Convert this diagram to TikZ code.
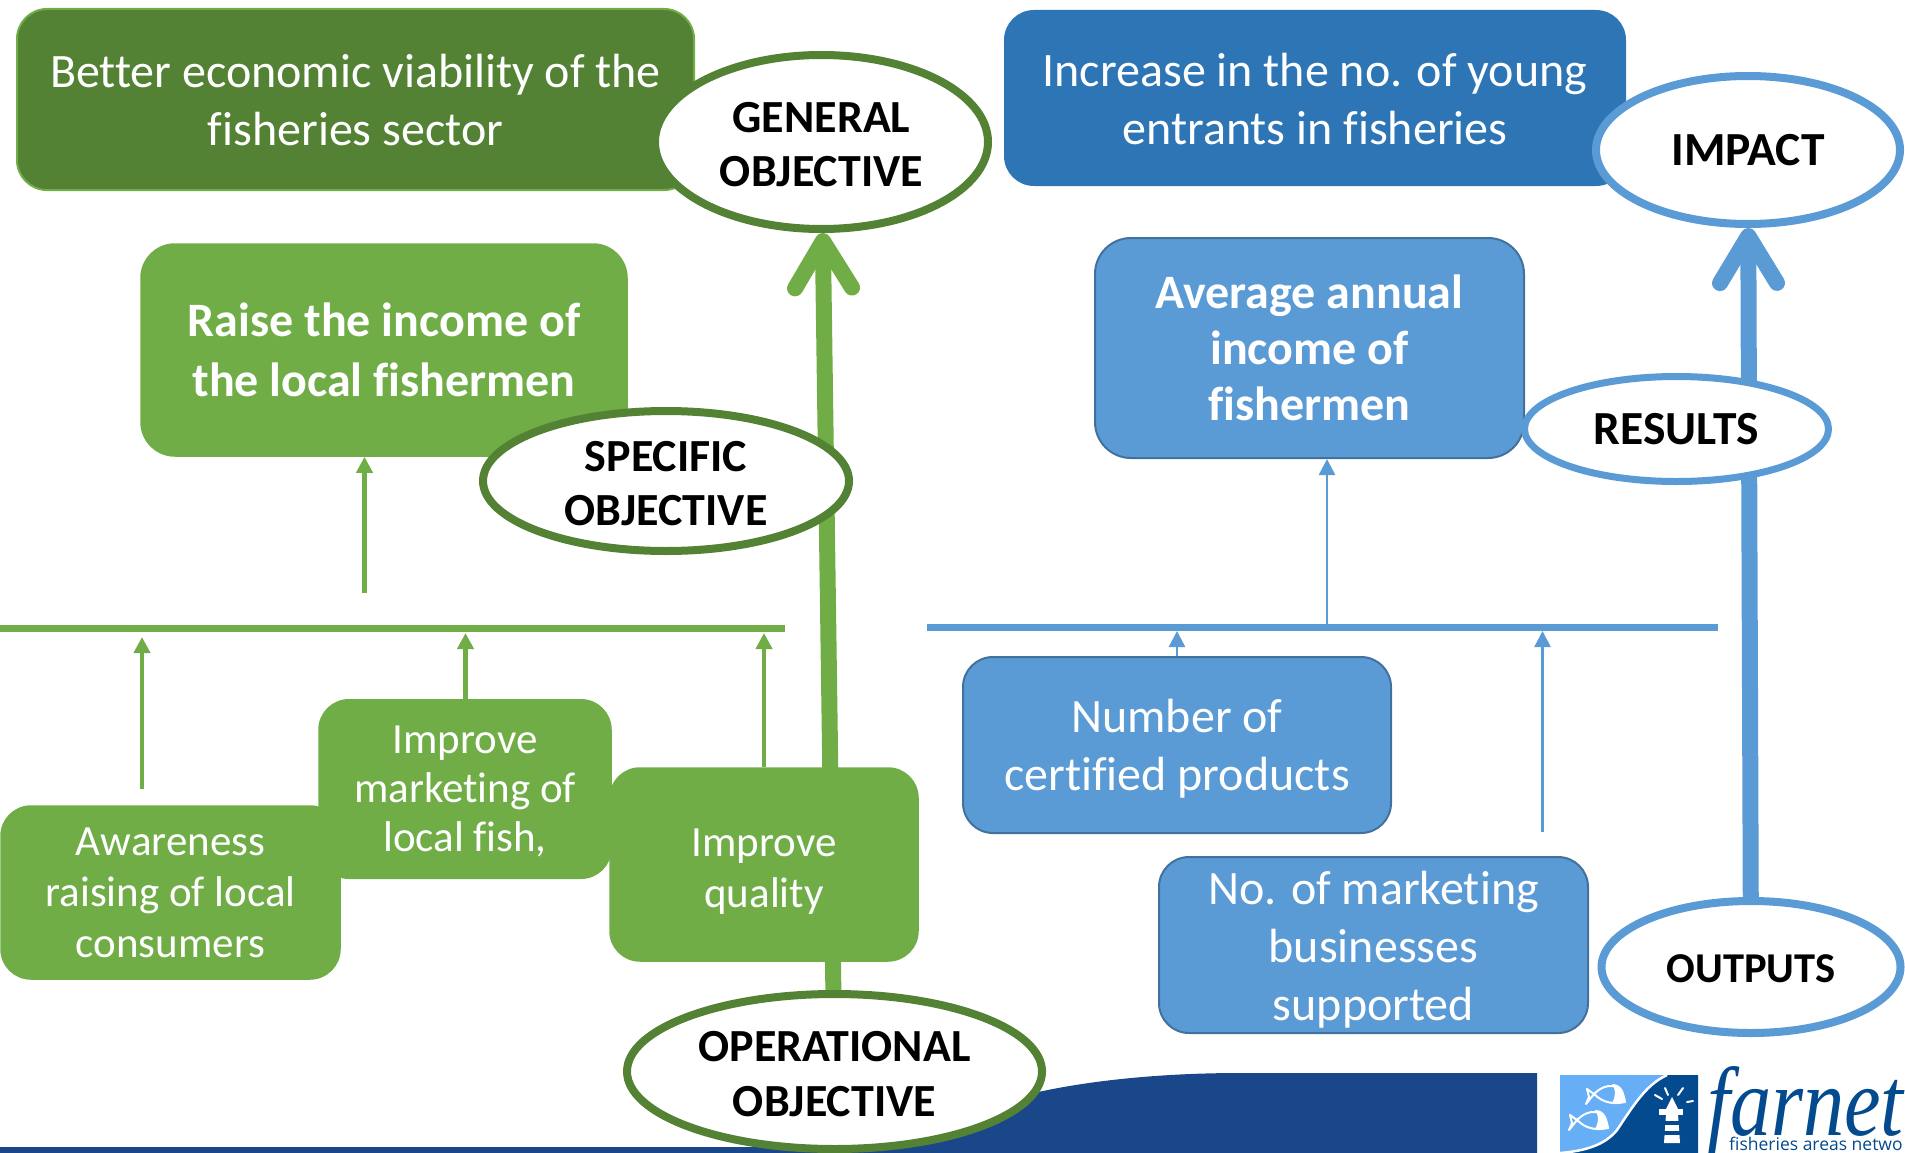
\documentclass[tikz,border=0pt]{standalone}
\usepackage{fontspec}
\setmainfont{Carlito}[Ligatures=NoCommon]
\newfontfamily\farnetfont{Liberation Serif}
\newfontfamily\logosans{Open Sans}
\usetikzlibrary{arrows.meta,shapes.geometric}
\definecolor{dgreen}{HTML}{548235}
\definecolor{lgreen}{HTML}{70AD47}
\definecolor{dblue}{HTML}{2E75B6}
\definecolor{lblue}{HTML}{5B9BD5}
\definecolor{bblue}{HTML}{41719C}
\definecolor{navy}{HTML}{1A4789}
\definecolor{logolight}{HTML}{66AEF5}
\definecolor{logodark}{HTML}{034A8E}
\pgfdeclarelayer{back}
\pgfsetlayers{back,main}
% invisible strut that lowers a node's text a little
\newcommand{\padtop}[1]{\rule{0pt}{#1pt}}
\tikzset{
  roundbox/.style={rectangle,rounded corners=30pt,inner sep=0pt,align=center,text=white},
  txtreg/.style={font=\fontsize{48}{58}\selectfont},
  txtsmall/.style={font=\fontsize{43}{51}\selectfont},
  txtbold/.style={font=\fontsize{48}{60}\selectfont\bfseries},
  gbox/.style={roundbox,fill=lgreen,draw=lgreen,line width=1.5pt},
  bbox/.style={roundbox,fill=lblue,draw=bblue,line width=2pt},
  oval/.style={ellipse,fill=white,line width=8pt,inner sep=-20pt,align=center,text=black,
    font=\fontsize{46}{54.5}\selectfont\bfseries},
  goval/.style={oval,draw=dgreen},
  boval/.style={oval,draw=lblue},
  garrow/.style={draw=lgreen,line width=4.5pt,-{Triangle[length=16pt,width=16pt]}},
  barrow/.style={draw=lblue,line width=2.5pt,-{Triangle[length=16pt,width=16pt]}},
  bigarrow/.style={line width=16pt,-{Straight Barb[length=47pt,width=57pt,round,line width=16pt]}},
  hbar/.style={line width=7pt},
}
\begin{document}
\begin{tikzpicture}[x=1pt,y=-1pt]
\useasboundingbox (0,0) rectangle (1905,1153);
\clip (0,0) rectangle (1905,1153);
% positions of the connectors
\coordinate (gbarL) at (0,628);
\coordinate (gbarR) at (785,628);
\coordinate (bbarL) at (927,627);
\coordinate (bbarR) at (1718,627);
\coordinate (gfree1) at (142,789);
\coordinate (gtip1) at (142,637);
\coordinate (gx2) at (465.5,633);
\coordinate (gx3) at (764,633);
\coordinate (gfree4) at (364.5,593);
\coordinate (bx1) at (1177,631);
\coordinate (bx2) at (1327,627);
\coordinate (bfree3) at (1542.5,832);
\coordinate (btip3) at (1542.5,631);
% boxes
\node[roundbox,txtreg,fill=dgreen,draw=lgreen,line width=2pt,minimum width=677pt,minimum height=181pt] (best) at (355.5,99.5) {\padtop{34}Better economic viability of the\\fisheries sector};
\node[gbox,txtbold,minimum width=486pt,minimum height=212pt,rounded corners=34pt] (raise) at (384,350) {Raise the income of\\the local fishermen};
\node[gbox,txtsmall,minimum width=339pt,minimum height=173pt] (aware) at (170.5,892.5) {Awareness\\raising of local\\consumers};
\node[gbox,font=\fontsize{43}{49}\selectfont,minimum width=292pt,minimum height=178.5pt] (market) at (465,789) {\padtop{32}Improve\\marketing of\\local fish,};
\node[gbox,txtsmall,minimum width=308pt,minimum height=193pt] (qual) at (764,864.5) {\padtop{41}Improve\\quality};
\node[roundbox,txtreg,fill=dblue,minimum width=622pt,minimum height=176pt] (inc) at (1315,98) {\padtop{35}Increase in the no. of young\\entrants in fisheries};
\node[bbox,txtbold,font=\fontsize{48}{56}\selectfont\bfseries,minimum width=429pt,minimum height=220pt,rounded corners=36pt] (avg) at (1309.5,348) {Average annual\\income of\\fishermen};
\node[bbox,txtreg,minimum width=428pt,minimum height=176pt] (num) at (1177,745) {\padtop{40}Number of\\certified products};
\node[bbox,txtreg,minimum width=429pt,minimum height=176pt] (nomark) at (1373.5,945) {\padtop{42}No. of marketing\\businesses\\supported};
% ovals
\node[goval,minimum width=333pt,minimum height=174pt] (gen) at (821.5,142) {\padtop{35}GENERAL\\OBJECTIVE};
\node[goval,minimum width=366pt,minimum height=140pt] (spec) at (666,481) {\padtop{35}SPECIFIC\\OBJECTIVE};
\node[goval,minimum width=415pt,minimum height=155pt] (op) at (834.5,1071.5) {\padtop{35}OPERATIONAL\\OBJECTIVE};
\node[boval,font=\fontsize{47.5}{56}\selectfont\bfseries,minimum width=304pt,minimum height=148pt] (impact) at (1748,150) {IMPACT};
\node[boval,font=\fontsize{42.5}{50}\selectfont\bfseries,minimum width=299pt,minimum height=132pt] (outputs) at (1751,967) {\padtop{32}OUTPUTS};
\node[boval,font=\fontsize{47.5}{56}\selectfont\bfseries,line width=7pt,minimum width=304pt,minimum height=105pt] (results) at (1676.5,429) {RESULTS};
\begin{pgfonlayer}{back}
% footer band
\fill[navy] (0,1147) -- (860,1147) .. controls (930,1118) and (1010,1097) .. (1043,1091)
  .. controls (1100,1079) and (1170,1073) .. (1240,1073) -- (1537,1073) -- (1537,1153) -- (0,1153) -- cycle;
% thick connectors
\draw[bigarrow,draw=lgreen] (op) -- (gen);
\draw[bigarrow,draw=lblue] (outputs) -- (impact);
% bars
\draw[hbar,draw=lgreen] (gbarL) -- (gbarR);
\draw[hbar,draw=lblue] (bbarL) -- (bbarR);
\end{pgfonlayer}
% thin connectors
\draw[garrow] (gfree1) -- (gtip1);
\draw[garrow] (gx2 |- market.north) -- (gx2);
\draw[garrow] (gx3 |- qual.north) -- (gx3);
\draw[garrow] (gfree4) -- (gfree4 |- raise.south);
\draw[barrow] (bx1 |- num.north) -- (bx1);
\draw[barrow] (bx2) -- (bx2 |- avg.south);
\draw[barrow] (bfree3) -- (btip3);
% logo
\fill[logolight] (1560,1075) rectangle (1698,1153);
\fill[logodark] (1667,1075) .. controls (1645,1085) and (1632,1108) .. (1617,1130)
  .. controls (1605,1145) and (1585,1151) .. (1560,1153) -- (1698,1153) -- (1698,1075) -- cycle;
\draw[white,line width=2.5pt] (1667,1075) .. controls (1645,1085) and (1632,1108) .. (1617,1130)
  .. controls (1605,1145) and (1585,1151) .. (1560,1153);
\begin{scope}[white,line width=2pt,line join=round]
  \draw (1594,1094) .. controls (1606,1082) and (1622,1082) .. (1625,1102) .. controls (1615,1104) and (1604,1104) .. (1594,1094) -- (1587,1089) -- (1589,1097) -- (1586,1104) -- cycle;
  \fill (1612,1084) .. controls (1622,1084) and (1625,1093) .. (1625,1102) .. controls (1620,1103) and (1616,1103) .. (1612,1103) .. controls (1616,1096) and (1616,1090) .. (1612,1084) -- cycle;
  \draw (1577,1120) .. controls (1589,1108) and (1605,1108) .. (1608,1128) .. controls (1598,1130) and (1587,1130) .. (1577,1120) -- (1570,1115) -- (1572,1123) -- (1569,1130) -- cycle;
  \fill (1595,1110) .. controls (1605,1110) and (1608,1119) .. (1608,1128) .. controls (1603,1129) and (1599,1129) .. (1595,1129) .. controls (1599,1122) and (1599,1116) .. (1595,1110) -- cycle;
  % lighthouse
  \fill (1666,1114) -- (1678,1114) -- (1680,1143) -- (1664,1143) -- cycle;
  \fill (1659,1109) rectangle (1683,1115);
  \fill (1672,1097) -- (1678,1109) -- (1666,1109) -- cycle;
  \draw[line cap=round] (1665,1088) -- (1668,1095);
  \draw[line cap=round] (1683,1088) -- (1678,1095);
  \draw[line cap=round] (1655,1095) -- (1662,1099);
  \draw[line cap=round] (1687,1102) -- (1693,1101);
\end{scope}
\fill[logodark] (1665,1121) rectangle (1679,1125);
\fill[logodark] (1664,1131) rectangle (1680,1135);
\node[anchor=base west,inner sep=0pt,text=logodark,xscale=.84,font=\fontsize{98}{98}\selectfont\farnetfont\itshape] (farnetword) at (1707,1135) {farnet};
\node[anchor=base west,inner sep=0pt,text=logodark,font=\fontsize{17.5}{17.5}\selectfont\logosans] (farnettag) at (1729,1150) {fisheries areas netwo};
\end{tikzpicture}
\end{document}
